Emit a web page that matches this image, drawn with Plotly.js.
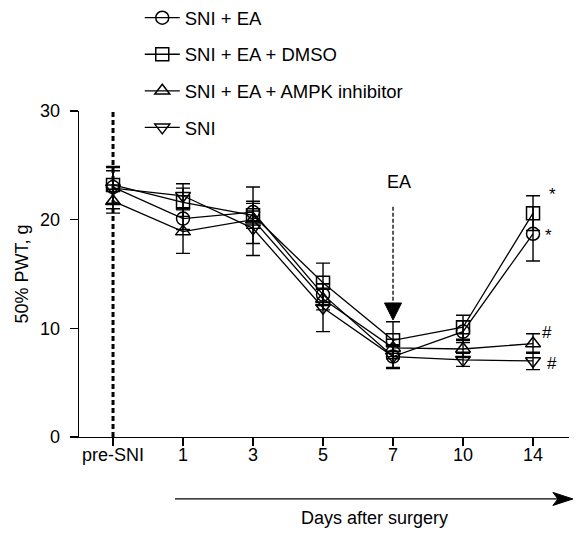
<!DOCTYPE html>
<html>
<head>
<meta charset="utf-8">
<script src="https://cdn.plot.ly/plotly-3.0.1.min.js"></script>
<style>html,body{margin:0;padding:0;background:#fff;}#chart{width:579px;height:534px;}</style>
</head>
<body>
<div id="chart"></div>
<script>
// ---- data ----
var categories = ['pre-SNI', '1', '3', '5', '7', '10', '14'];
var seriesNames = ['SNI + EA', 'SNI + EA + DMSO', 'SNI + EA + AMPK inhibitor', 'SNI'];
var sniEA      = [23.0, 20.1, 20.7, 13.1, 7.4, 9.7, 18.7];
var sniEAErr   = [1.5, 1.0, 0.8, 1.0, 1.1, 1.0, 2.5];
var sniEADmso    = [23.2, 21.6, 20.4, 14.2, 8.9, 10.1, 20.6];
var sniEADmsoErr = [1.7, 1.3, 2.6, 1.8, 1.7, 1.1, 1.6];
var sniEAAmpk    = [21.7, 18.9, 20.0, 12.7, 8.2, 8.1, 8.6];
var sniEAAmpkErr = [1.1, 2.0, 0.8, 1.0, 0.8, 0.8, 0.9];
var sni      = [22.9, 22.2, 19.2, 11.9, 7.4, 7.1, 7.0];
var sniErr   = [1.9, 1.1, 2.5, 2.2, 1.0, 0.6, 0.8];
var yTicks = [0, 10, 20, 30];

var FONT = 'Liberation Sans, Arial, sans-serif';
var symbols = ['circle-open', 'square-open', 'triangle-up-open', 'triangle-down-open'];
var ys = [sniEA, sniEADmso, sniEAAmpk, sni];
var errs = [sniEAErr, sniEADmsoErr, sniEAAmpkErr, sniErr];
var iPre = categories.indexOf('pre-SNI');
var iEA = categories.indexOf('7');
var iLast = categories.indexOf('14');

var traces = ys.map(function (y, i) {
  return {
    type: 'scatter', mode: 'lines+markers',
    x: categories, y: y, name: seriesNames[i],
    legendgroup: 'g' + i,
    line: {color: '#000', width: 1.3},
    marker: {symbol: symbols[i], size: 13, color: '#000', line: {width: 1.5, color: '#000'}},
    error_y: {type: 'data', array: errs[i], visible: true, color: '#000', thickness: 1.4, width: 7},
    cliponaxis: false,
    hoverinfo: 'skip'
  };
});

function note(x, y, text, xshift, size) {
  return {xref: 'x', yref: 'y', x: x, y: y, text: text, showarrow: false,
          xanchor: 'center', yanchor: 'middle', xshift: xshift,
          font: {family: FONT, size: size, color: '#000'}};
}

var layout = {
  width: 579, height: 534,
  margin: {l: 79, r: 10, t: 111, b: 97, autoexpand: false},
  paper_bgcolor: '#fff', plot_bgcolor: '#fff',
  font: {family: FONT, size: 18, color: '#000'},
  showlegend: true,
  legend: {
    x: 0.124, y: 1.343, xanchor: 'left', yanchor: 'top',
    traceorder: 'grouped', tracegroupgap: 9.5,
    itemwidth: 35, font: {family: FONT, size: 18.5, color: '#000'},
    bgcolor: 'rgba(0,0,0,0)'
  },
  hovermode: false,
  xaxis: {
    type: 'category', categoryorder: 'array', categoryarray: categories,
    range: [-0.486, 6.514],
    showline: true, linecolor: '#000', linewidth: 1.3,
    ticks: 'outside', ticklen: 8, tickwidth: 1.3, tickcolor: '#000',
    ticklabelstandoff: -7,
    showgrid: false, zeroline: false,
    tickfont: {family: FONT, size: 18, color: '#000'}
  },
  yaxis: {
    range: [0, 30], tickvals: yTicks, ticktext: yTicks.map(String),
    showline: true, linecolor: '#000', linewidth: 1.3,
    ticks: 'outside', ticklen: 8, tickwidth: 1.3, tickcolor: '#000',
    ticklabelstandoff: 6,
    showgrid: false, zeroline: false,
    tickfont: {family: FONT, size: 18, color: '#000'},
    title: {text: '50% PWT, g', font: {family: FONT, size: 18, color: '#000'}, standoff: 6}
  },
  shapes: [
    {type: 'line', xref: 'x', yref: 'y', x0: iPre, x1: iPre, y0: 0, y1: 30,
     line: {color: '#000', width: 3, dash: '5px,3px'}, layer: 'below'},
    {type: 'line', xref: 'x', yref: 'y', x0: iEA, x1: iEA, y0: 21.2, y1: 12.3,
     line: {color: '#000', width: 1.3, dash: '4px,2px'}},
    {type: 'path', xref: 'x', yref: 'y', xsizemode: 'pixel', ysizemode: 'pixel',
     xanchor: iEA, yanchor: 10.77, path: 'M0,0 L-8.5,17 L8.5,17 Z',
     fillcolor: '#000', line: {color: '#000', width: 1}},
    {type: 'line', xref: 'paper', yref: 'paper', x0: 0.196, x1: 0.985, y0: -0.19, y1: -0.19,
     line: {color: '#000', width: 1.3}},
    {type: 'path', xref: 'paper', yref: 'paper', xsizemode: 'pixel', ysizemode: 'pixel',
     xanchor: 1.008, yanchor: -0.19, path: 'M0,0 L-20,6.5 L-15,0 L-20,-6.5 Z',
     fillcolor: '#000', line: {color: '#000', width: 1}}
  ],
  annotations: [
    note(iEA, 23.5, 'EA', 6, 18),
    note(iLast, 22.3, '*', 19, 17),
    note(iLast, 18.5, '*', 15, 17),
    note(iLast, 9.6, '#', 14, 17),
    note(iLast, 6.8, '#', 19, 17),
    {xref: 'paper', yref: 'paper', x: 0.604, y: -0.248, text: 'Days after surgery', showarrow: false,
     xanchor: 'center', yanchor: 'middle',
     font: {family: FONT, size: 18, color: '#000'}}
  ]
};

Plotly.newPlot('chart', traces, layout, {displayModeBar: false, staticPlot: true});
</script>
</body>
</html>
